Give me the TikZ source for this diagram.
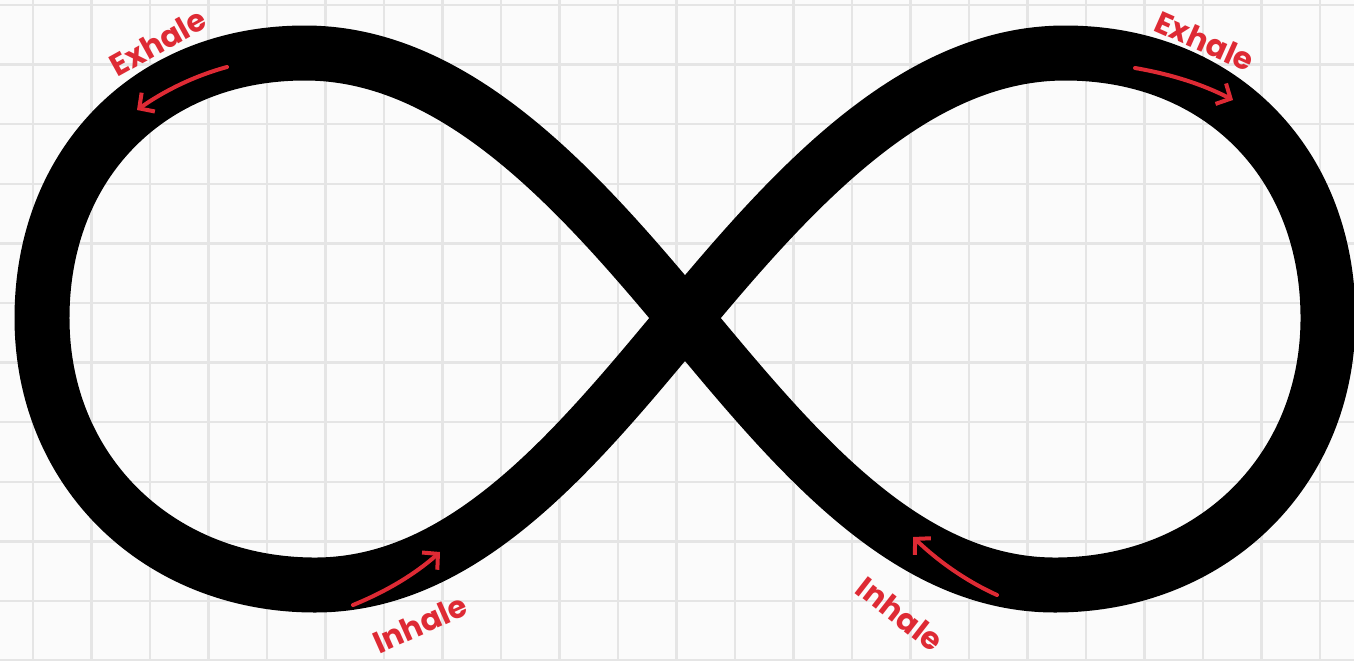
\documentclass[tikz,border=0pt]{standalone}
\usepackage{fontspec}
\newfontfamily\labfont{Poppins}
\usetikzlibrary{arrows.meta}
\definecolor{gridc}{RGB}{229,229,229}
\definecolor{bgc}{RGB}{251,251,251}
\definecolor{labred}{RGB}{222,42,52}
\begin{document}
\begin{tikzpicture}[x=0.02cm,y=-0.02cm,
  gridline/.style={draw=gridc, line width=0.05cm},
  band/.style={draw=black, line width=1.1cm, line join=round},
  breath/.style={draw=labred, line width=0.08cm, line cap=round, -{Straight Barb[length=0.22cm,width=0.46cm]}},
  lab/.style={text=labred, font=\labfont\bfseries\fontsize{17.5}{20}\selectfont, inner sep=0pt}]
\fill[bgc] (0,0) rectangle (1354,660);
\useasboundingbox (0,0) rectangle (1354,660);
\foreach \k in {0,...,22} \draw[gridline] ({33+58.5*\k},0) -- ({33+58.5*\k},660);
\foreach \k in {0,...,11} \draw[gridline] (0,{5+59.6*\k}) -- (1354,{5+59.6*\k});
% infinity band
\coordinate (C) at (685,318);
\coordinate (T1) at (305,53);
\coordinate (L) at (42,318);
\coordinate (B1) at (315,585);
\coordinate (T2) at (1065,53);
\coordinate (R) at (1328,318);
\coordinate (B2) at (1055,585);
\draw[band] (C) .. controls (576,187) and (455,53) .. (T1)
 .. controls (150,53) and (42,163) .. (L)
 .. controls (42,473) and (160,585) .. (B1)
 .. controls (465,585) and (576,449) .. (C)
 .. controls (794,187) and (915,53) .. (T2)
 .. controls (1220,53) and (1328,163) .. (R)
 .. controls (1328,473) and (1210,585) .. (B2)
 .. controls (905,585) and (794,449) .. (C) -- cycle;
% labels
\node[lab, rotate=29] (ex1) at (158,42) {Exhale};
\node[lab, rotate=-24] (ex2) at (1205,41) {Exhale};
\node[lab, rotate=24] (in1) at (420,624) {Inhale};
\node[lab, rotate=-38] (in2) at (900,614) {Inhale};
% arrows
\coordinate (a1s) at (227,67);
\coordinate (a1e) at (137,110);
\coordinate (a2s) at (1135,68);
\coordinate (a2e) at (1233,100);
\coordinate (a3s) at (353,605);
\coordinate (a3e) at (440,552);
\coordinate (a4s) at (997,595);
\coordinate (a4e) at (913,537);
\draw[breath] (a1s) .. controls (194,76) and (164,91) .. (a1e);
\draw[breath] (a2s) .. controls (1170,74) and (1202,84) .. (a2e);
\draw[breath] (a3s) .. controls (385,592) and (414,575) .. (a3e);
\draw[breath] (a4s) .. controls (966,581) and (938,561) .. (a4e);
\end{tikzpicture}
\end{document}
